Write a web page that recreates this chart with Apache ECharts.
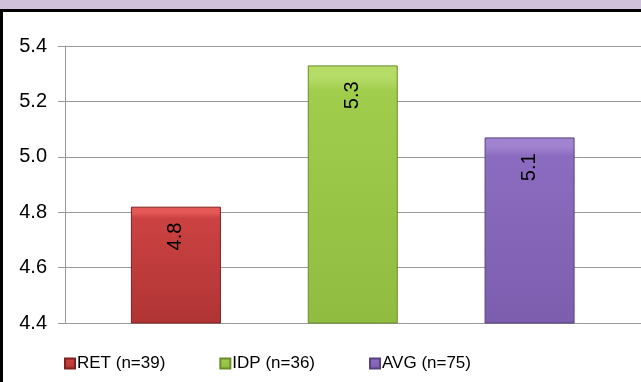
<!DOCTYPE html>
<html>
<head>
<meta charset="utf-8">
<script src="https://cdn.jsdelivr.net/npm/echarts@6/dist/echarts.min.js"></script>
<style>
html,body{margin:0;padding:0;background:#fff;}
#c{width:641px;height:382px;}
</style>
</head>
<body>
<div id="c"></div>
<script>
const categories = ['RET (n=39)', 'IDP (n=36)', 'AVG (n=75)'];
const values = [4.82, 5.33, 5.07];
const yTicks = [4.4, 4.6, 4.8, 5.0, 5.2, 5.4];

const palette = [
  ['#E45858', '#CC4242', '#B03434', '#7E2222'],
  ['#B4DC66', '#A0CD4C', '#90BC40', '#6A8C2A'],
  ['#A283D0', '#8C6CC0', '#7C5DAE', '#58417F']
];
const FONT = '"Liberation Sans", Arial, sans-serif';

const chart = echarts.init(document.getElementById('c'), null, {renderer: 'canvas'});

const series = categories.map((name, i) => ({
  name: name,
  type: 'bar',
  xAxisIndex: 1,
  yAxisIndex: 1,
  barWidth: 90,
  barGap: '-100%',
  data: categories.map((c, j) => j === i ? values[j] : '-'),
  itemStyle: {
    color: new echarts.graphic.LinearGradient(0, 0, 0, 1, [
      {offset: 0, color: palette[i][0]},
      {offset: 0.05, color: palette[i][0]},
      {offset: 0.1, color: palette[i][1]},
      {offset: 1, color: palette[i][2]}
    ]),
    borderColor: palette[i][3],
    borderWidth: 1
  },
  label: {
    show: true,
    position: 'insideTop',
    distance: 16,
    rotate: 90,
    align: 'right',
    verticalAlign: 'middle',
    color: '#000',
    fontSize: 20,
    fontFamily: FONT,
    formatter: p => Number(p.value).toFixed(1)
  }
}));

chart.setOption({
  animation: false,
  backgroundColor: '#fff',
  grid: [
    {left: 65, right: 0, top: 46, bottom: 59},
    {left: 87.5, right: 23, top: 46, bottom: 59}
  ],
  xAxis: [
    {gridIndex: 0, type: 'value', show: false, min: 0, max: 1},
    {gridIndex: 1, type: 'category', data: categories, show: false}
  ],
  yAxis: [
    {
      gridIndex: 0, type: 'value', min: yTicks[0], max: yTicks[yTicks.length - 1], interval: 0.2,
      axisLine: {show: true, lineStyle: {color: '#999', width: 1}},
      axisTick: {show: true, length: 7, lineStyle: {color: '#999'}},
      axisLabel: {color: '#000', fontSize: 20, fontFamily: FONT, margin: 18,
        formatter: v => v.toFixed(1)},
      splitLine: {show: true, lineStyle: {color: '#999', width: 1}}
    },
    {gridIndex: 1, type: 'value', min: yTicks[0], max: yTicks[yTicks.length - 1], show: false}
  ],
  legend: {
    data: categories.map(n => ({name: n, icon: 'rect'})),
    left: 59,
    top: 350,
    itemWidth: 10,
    itemHeight: 10,
    itemGap: 54,
    textStyle: {color: '#000', fontSize: 17, fontFamily: FONT, padding: [0, 0, 0, -3]}
  },
  graphic: [
    {type: 'rect', left: 0, top: 0, shape: {width: 641, height: 9}, style: {fill: '#CFC1DB'}, z: 100},
    {type: 'rect', left: 0, top: 9, shape: {width: 641, height: 3}, style: {fill: '#000'}, z: 100},
    {type: 'rect', left: 0, top: 9, shape: {width: 3, height: 373}, style: {fill: '#000'}, z: 100}
  ],
  series: series
});
</script>
</body>
</html>
